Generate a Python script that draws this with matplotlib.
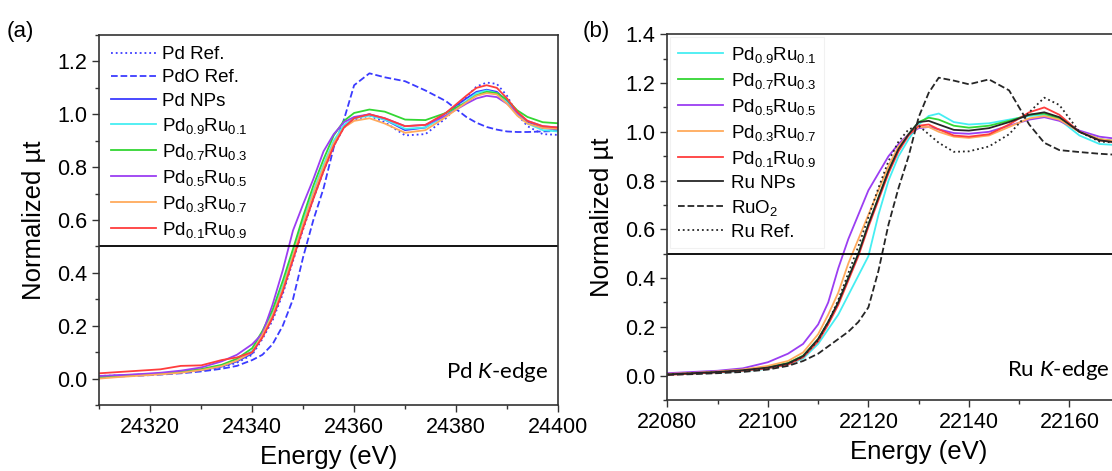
import matplotlib
matplotlib.use("Agg")
import matplotlib.pyplot as plt
from matplotlib.ticker import MultipleLocator, FormatStrFormatter

plt.rcParams['font.family'] = ['Liberation Sans', 'DejaVu Sans']
plt.rcParams['mathtext.fontset'] = 'custom'
plt.rcParams['mathtext.default'] = 'regular'
plt.rcParams['mathtext.rm'] = 'Liberation Sans'
plt.rcParams['mathtext.it'] = 'Lato:italic'

# ---- panel (a): Pd K-edge ----
E_pd = [24310, 24314, 24318, 24322, 24326, 24330, 24334, 24337, 24340, 24342,
        24344, 24346, 24348, 24350, 24352, 24354, 24356, 24358, 24360, 24363,
        24366, 24370, 24374, 24378, 24382, 24384, 24386, 24388, 24390, 24392,
        24394, 24397, 24400]

pd_ref = [0.010, 0.012, 0.015, 0.018, 0.022, 0.030, 0.042, 0.060, 0.090, 0.150,
          0.220, 0.320, 0.445, 0.565, 0.680, 0.785, 0.880, 0.950, 0.980, 0.995,
          0.970, 0.920, 0.925, 0.985, 1.065, 1.105, 1.120, 1.115, 1.070, 1.000,
          0.955, 0.925, 0.922]
pdo_ref = [0.005, 0.008, 0.011, 0.015, 0.020, 0.027, 0.037, 0.048, 0.070, 0.090,
           0.130, 0.200, 0.300, 0.460, 0.600, 0.720, 0.875, 0.980, 1.110, 1.155,
           1.140, 1.125, 1.090, 1.050, 0.990, 0.968, 0.952, 0.942, 0.935, 0.933,
           0.933, 0.935, 0.937]
pd_nps = [0.008, 0.012, 0.015, 0.019, 0.024, 0.032, 0.045, 0.065, 0.095, 0.160,
          0.230, 0.330, 0.455, 0.575, 0.685, 0.790, 0.885, 0.955, 0.985, 1.000,
          0.980, 0.940, 0.950, 1.005, 1.060, 1.085, 1.093, 1.085, 1.050, 1.000,
          0.970, 0.948, 0.943]
pd9ru1_a = [0.007, 0.011, 0.015, 0.019, 0.025, 0.034, 0.048, 0.070, 0.105, 0.175,
            0.250, 0.350, 0.480, 0.600, 0.710, 0.810, 0.900, 0.960, 0.985, 0.995,
            0.980, 0.945, 0.950, 0.995, 1.050, 1.080, 1.090, 1.080, 1.045, 1.000,
            0.965, 0.940, 0.935]
pd7ru3_a = [0.006, 0.010, 0.014, 0.019, 0.026, 0.036, 0.052, 0.075, 0.115, 0.180,
            0.260, 0.370, 0.490, 0.615, 0.730, 0.830, 0.920, 0.975, 1.005, 1.018,
            1.010, 0.980, 0.978, 1.005, 1.045, 1.072, 1.085, 1.080, 1.055, 1.015,
            0.990, 0.970, 0.966]
pd5ru5_a = [0.010, 0.013, 0.017, 0.022, 0.030, 0.042, 0.065, 0.090, 0.130, 0.170,
            0.280, 0.410, 0.560, 0.660, 0.755, 0.860, 0.925, 0.970, 0.990, 1.000,
            0.985, 0.955, 0.960, 0.995, 1.040, 1.060, 1.070, 1.065, 1.040, 1.005,
            0.975, 0.955, 0.950]
pd3ru7_a = [0.000, 0.006, 0.011, 0.016, 0.022, 0.032, 0.047, 0.068, 0.100, 0.165,
            0.240, 0.340, 0.465, 0.585, 0.700, 0.800, 0.890, 0.950, 0.975, 0.985,
            0.965, 0.930, 0.940, 0.990, 1.045, 1.070, 1.080, 1.075, 1.040, 0.995,
            0.965, 0.948, 0.945]
pd1ru9_a = [0.020, 0.025, 0.030, 0.035, 0.048, 0.050, 0.070, 0.080, 0.100, 0.155,
            0.230, 0.330, 0.450, 0.570, 0.680, 0.785, 0.880, 0.950, 0.985, 1.000,
            0.985, 0.955, 0.960, 1.005, 1.070, 1.100, 1.110, 1.100, 1.060, 1.010,
            0.975, 0.955, 0.950]

# ---- panel (b): Ru K-edge ----
E_ru = [22080, 22085, 22090, 22095, 22100, 22104, 22107, 22110, 22112, 22114,
        22116, 22118, 22120, 22122, 22124, 22126, 22128, 22130, 22132, 22134,
        22137, 22140, 22144, 22148, 22152, 22155, 22158, 22162, 22166, 22170]

pd9ru1_b = [0.005, 0.008, 0.012, 0.018, 0.028, 0.045, 0.070, 0.130, 0.190, 0.250,
            0.330, 0.410, 0.490, 0.660, 0.800, 0.900, 0.970, 1.030, 1.065, 1.075,
            1.040, 1.030, 1.035, 1.050, 1.065, 1.070, 1.050, 0.985, 0.950, 0.945]
pd7ru3_b = [0.006, 0.010, 0.015, 0.022, 0.034, 0.052, 0.082, 0.150, 0.220, 0.300,
            0.400, 0.500, 0.620, 0.730, 0.840, 0.930, 0.990, 1.040, 1.058, 1.050,
            1.025, 1.017, 1.025, 1.045, 1.070, 1.075, 1.055, 1.000, 0.970, 0.960]
pd5ru5_b = [0.010, 0.015, 0.020, 0.030, 0.055, 0.090, 0.130, 0.210, 0.300, 0.440,
            0.560, 0.660, 0.760, 0.830, 0.900, 0.950, 0.990, 1.015, 1.020, 1.010,
            0.995, 0.992, 1.000, 1.025, 1.050, 1.060, 1.045, 1.005, 0.980, 0.970]
pd3ru7_b = [0.007, 0.011, 0.017, 0.025, 0.040, 0.060, 0.095, 0.170, 0.250, 0.340,
            0.460, 0.560, 0.660, 0.760, 0.860, 0.940, 0.990, 1.020, 1.020, 1.000,
            0.980, 0.975, 0.985, 1.020, 1.055, 1.065, 1.050, 1.000, 0.970, 0.960]
pd1ru9_b = [0.003, 0.008, 0.013, 0.020, 0.030, 0.045, 0.075, 0.140, 0.210, 0.290,
            0.390, 0.490, 0.610, 0.720, 0.830, 0.920, 0.985, 1.025, 1.030, 1.010,
            0.985, 0.980, 0.990, 1.030, 1.080, 1.100, 1.070, 1.000, 0.965, 0.955]
ru_nps = [0.005, 0.010, 0.015, 0.022, 0.033, 0.050, 0.080, 0.150, 0.220, 0.300,
          0.400, 0.500, 0.620, 0.730, 0.840, 0.930, 0.990, 1.040, 1.045, 1.030,
          1.008, 1.005, 1.015, 1.040, 1.070, 1.080, 1.060, 1.000, 0.965, 0.955]
ruo2 = [0.003, 0.006, 0.010, 0.015, 0.025, 0.040, 0.060, 0.090, 0.120, 0.150,
        0.180, 0.220, 0.280, 0.430, 0.620, 0.770, 0.900, 1.060, 1.160, 1.222,
        1.210, 1.195, 1.215, 1.170, 1.030, 0.955, 0.925, 0.917, 0.910, 0.905]
ru_ref = [0.005, 0.009, 0.014, 0.020, 0.030, 0.048, 0.078, 0.145, 0.220, 0.310,
          0.420, 0.530, 0.650, 0.770, 0.880, 0.960, 1.010, 1.025, 0.990, 0.955,
          0.918, 0.920, 0.940, 0.990, 1.080, 1.140, 1.110, 1.000, 0.960, 0.955]

ru_ticks = [22080, 22100, 22120, 22140, 22160]

c_blue = '#3b3bff'
c_cyan = '#45eef2'
c_green = '#33d633'
c_purple = '#9b3ef2'
c_orange = '#ffaa5c'
c_red = '#ff3d3d'
c_dark = '#262626'

lw = 1.3
W, H = 1112, 471
fig = plt.figure(figsize=(W / 100, H / 100), dpi=100)

ax1 = fig.add_axes([99.3 / W, (H - 405) / H, 458.7 / W, 370 / H])
ax2 = fig.add_axes([667.4 / W, (H - 400) / H, 502.5 / W, 365.7 / H])

ax1.plot(E_pd, pd_ref, ':', color=c_blue, lw=lw, label='Pd Ref.')
ax1.plot(E_pd, pdo_ref, '--', color=c_blue, lw=lw, label='PdO Ref.')
ax1.plot(E_pd, pd_nps, '-', color=c_blue, lw=lw, label='Pd NPs')
ax1.plot(E_pd, pd9ru1_a, color=c_cyan, lw=lw, label=r'Pd$_{0.9}$Ru$_{0.1}$')
ax1.plot(E_pd, pd7ru3_a, color=c_green, lw=lw, label=r'Pd$_{0.7}$Ru$_{0.3}$')
ax1.plot(E_pd, pd5ru5_a, color=c_purple, lw=lw, label=r'Pd$_{0.5}$Ru$_{0.5}$')
ax1.plot(E_pd, pd3ru7_a, color=c_orange, lw=lw, label=r'Pd$_{0.3}$Ru$_{0.7}$')
ax1.plot(E_pd, pd1ru9_a, color=c_red, lw=lw, label=r'Pd$_{0.1}$Ru$_{0.9}$')

ax2.plot(E_ru, pd9ru1_b, color=c_cyan, lw=lw, label=r'Pd$_{0.9}$Ru$_{0.1}$')
ax2.plot(E_ru, pd7ru3_b, color=c_green, lw=lw, label=r'Pd$_{0.7}$Ru$_{0.3}$')
ax2.plot(E_ru, pd5ru5_b, color=c_purple, lw=lw, label=r'Pd$_{0.5}$Ru$_{0.5}$')
ax2.plot(E_ru, pd3ru7_b, color=c_orange, lw=lw, label=r'Pd$_{0.3}$Ru$_{0.7}$')
ax2.plot(E_ru, pd1ru9_b, color=c_red, lw=lw, label=r'Pd$_{0.1}$Ru$_{0.9}$')
ax2.plot(E_ru, ru_nps, '-', color=c_dark, lw=lw, label='Ru NPs')
ax2.plot(E_ru, ruo2, '--', color=c_dark, lw=lw, label=r'RuO$_2$')
ax2.plot(E_ru, ru_ref, ':', color=c_dark, lw=lw, label='Ru Ref.')

for ax in (ax1, ax2):
    ax.axhline(0.5, color='black', lw=1.3)
    ax.xaxis.set_major_locator(MultipleLocator(20))
    ax.xaxis.set_minor_locator(MultipleLocator(10))
    ax.yaxis.set_major_locator(MultipleLocator(0.2))
    ax.yaxis.set_minor_locator(MultipleLocator(0.1))
    ax.tick_params(which='both', direction='out', top=False, right=False,
                   labelsize=15.5, width=1.0, color='#333333')
    ax.tick_params(which='major', length=5)
    ax.tick_params(which='minor', length=3)
    for s in ax.spines.values():
        s.set_linewidth(1.2)
        s.set_color('#333333')
    ax.set_xlabel('Energy (eV)', fontsize=18.5, labelpad=5)
    ax.set_ylabel('Normalized \u00b5t', fontsize=18.5, labelpad=8)
    ax.yaxis.set_major_formatter(FormatStrFormatter('%.1f'))

ax1.set_xlim(24310, 24400)
ax1.set_ylim(-0.1, 1.3)
ax2.set_xticks(ru_ticks)
ax2.set_xlim(22080, 22180)
ax2.set_ylim(-0.1, 1.4)

ax1.legend(loc='upper left', frameon=False, fontsize=13.5, handlelength=2.4,
           handletextpad=0.35, labelspacing=0.32, borderaxespad=0.3,
           borderpad=0.3)
leg2 = ax2.legend(loc='upper left', frameon=True, fontsize=13.5,
                  handlelength=2.4, handletextpad=0.45, labelspacing=0.32,
                  borderaxespad=0.15, borderpad=0.4, fancybox=False)
leg2.get_frame().set_edgecolor('#eeeeee')
leg2.get_frame().set_linewidth(0.8)

ax1.text(24398, 0.025, 'Pd $\\mathit{K}$-edge', family='Lato', fontsize=16,
         ha='right', va='center')
ax2.text(22147.6, 0.025, 'Ru $\\mathit{K}$-edge', family='Lato', fontsize=16,
         ha='left', va='center')

fig.text(7 / W, 1 - 31 / H, '(a)', fontsize=16, va='center', ha='left')
fig.text(583 / W, 1 - 31 / H, '(b)', fontsize=16, va='center', ha='left')

fig.savefig('out.png', dpi=100)
